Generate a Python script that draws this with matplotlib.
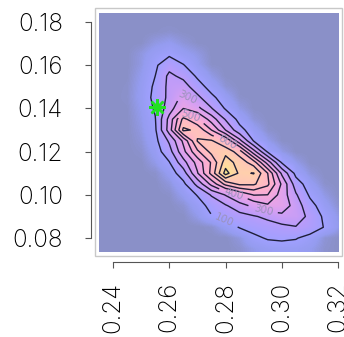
import numpy as np
import matplotlib
matplotlib.use("Agg")
import matplotlib.pyplot as plt
from matplotlib import font_manager
from matplotlib.colors import LinearSegmentedColormap
from matplotlib.patches import Rectangle

# grid of density values (rows from y=0.185 down to y=0.075)
x_grid = [0.235, 0.240, 0.245, 0.250, 0.255, 0.260, 0.265, 0.270, 0.275,
          0.280, 0.285, 0.290, 0.295, 0.300, 0.305, 0.310, 0.315, 0.320]
y_grid = [0.185, 0.180, 0.175, 0.170, 0.165, 0.160, 0.155, 0.150, 0.145, 0.140, 0.135, 0.130,
          0.125, 0.120, 0.115, 0.110, 0.105, 0.100, 0.095, 0.090, 0.085, 0.080, 0.075]
density = [
    [0, 0, 0, 0, 0, 0, 0, 0, 0, 0, 0, 0, 0, 0, 0, 0, 0, 0],
    [0, 0, 0, 0, 0, 0, 0, 0, 0, 0, 0, 0, 0, 0, 0, 0, 0, 0],
    [0, 0, 0, 0, 3, 9, 2, 0, 0, 0, 0, 0, 0, 0, 0, 0, 0, 0],
    [0, 0, 0, 2, 28, 42, 19, 2, 0, 0, 0, 0, 0, 0, 0, 0, 0, 0],
    [0, 0, 0, 25, 58, 85, 50, 28, 0, 0, 0, 0, 0, 0, 0, 0, 0, 0],
    [0, 0, 0, 28, 85, 164, 105, 42, 3, 0, 0, 0, 0, 0, 0, 0, 0, 0],
    [0, 0, 2, 39, 100, 223, 175, 85, 28, 0, 0, 0, 0, 0, 0, 0, 0, 0],
    [0, 0, 5, 46, 115, 227, 246, 144, 63, 14, 0, 0, 0, 0, 0, 0, 0, 0],
    [0, 0, 7, 50, 123, 226, 330, 226, 123, 50, 5, 0, 0, 0, 0, 0, 0, 0],
    [0, 0, 3, 42, 110, 255, 400, 331, 206, 90, 28, 0, 0, 0, 0, 0, 0, 0],
    [0, 0, 1, 35, 95, 332, 630, 516, 354, 192, 68, 16, 0, 0, 0, 0, 0, 0],
    [0, 0, 0, 28, 85, 346, 720, 680, 500, 300, 132, 50, 7, 0, 0, 0, 0, 0],
    [0, 0, 0, 19, 72, 215, 420, 705, 712, 600, 332, 95, 35, 1, 0, 0, 0, 0],
    [0, 0, 0, 9, 54, 160, 370, 580, 730, 770, 650, 342, 85, 28, 0, 0, 0, 0],
    [0, 0, 0, 1, 35, 95, 262, 437, 612, 850, 760, 650, 354, 90, 32, 0, 0, 0],
    [0, 0, 0, 0, 7, 50, 151, 391, 631, 940, 780, 805, 600, 282, 72, 19, 0, 0],
    [0, 0, 0, 0, 0, 22, 77, 229, 429, 629, 720, 715, 620, 385, 150, 50, 7, 0],
    [0, 0, 0, 0, 0, 5, 46, 105, 210, 306, 409, 505, 499, 356, 212, 85, 28, 0],
    [0, 0, 0, 0, 0, 0, 14, 63, 127, 190, 258, 325, 384, 369, 252, 134, 54, 9],
    [0, 0, 0, 0, 0, 0, 1, 35, 95, 133, 165, 190, 225, 270, 261, 171, 85, 28],
    [0, 0, 0, 0, 0, 0, 0, 0, 9, 54, 105, 129, 151, 172, 194, 157, 97, 35],
    [0, 0, 0, 0, 0, 0, 0, 0, 0, 0, 25, 81, 108, 115, 106, 68, 16, 0],
    [0, 0, 0, 0, 0, 0, 0, 0, 0, 0, 10, 35, 55, 60, 58, 40, 10, 0],
]
levels = [100, 200, 300, 400, 500, 600, 700, 800, 900]
star_x, star_y = 0.2556, 0.1406
xticks = [0.24, 0.26, 0.28, 0.30, 0.32]
yticks = [0.08, 0.10, 0.12, 0.14, 0.16, 0.18]

# pick a light sans face if one is installed
light = None
for f in font_manager.fontManager.ttflist:
    if f.name in ("Roboto", "Open Sans", "Lato", "Inter") and f.weight in (300, "light", 200):
        light = f.fname
        break
tick_font = font_manager.FontProperties(fname=light, size=17.5) if light else \
    font_manager.FontProperties(family="DejaVu Sans", size=16)

Z = np.flipud(np.array(density, dtype=float))
xg = np.array(x_grid)
yg = np.array(y_grid[::-1])

cmap = LinearSegmentedColormap.from_list("dens", [
    (0.00, "#8a90c8"), (0.04, "#959cf0"), (0.10, "#a0a0ff"), (0.21, "#bb9cfa"),
    (0.33, "#d8a0f2"), (0.46, "#f0a6e2"), (0.60, "#ffb2cc"), (0.75, "#ffc6b8"),
    (0.90, "#ffdaa0"), (1.00, "#f0f088")])

fig = plt.figure(figsize=(3.44, 3.37), dpi=100)
ax = fig.add_axes([95/344, 1 - 256/337, 247/344, 248/337])

im = ax.imshow(Z, origin="lower", cmap=cmap, vmin=0, vmax=960,
               extent=(0.2325, 0.3225, 0.0725, 0.1875),
               interpolation="bilinear", aspect="auto")
clip = Rectangle((0.2350, 0.0735), 0.0850, 0.1107, transform=ax.transData)
im.set_clip_path(clip)

cs = ax.contour(xg, yg, Z, levels=levels, colors="#1e1e38", linewidths=1.0)
ax.clabel(cs, inline=True, fontsize=7.5, colors="#9a92bc", fmt="%d",
          manual=[(0.2656, 0.1439), (0.2805, 0.1240), (0.2798, 0.0893),
                  (0.2930, 0.0916), (0.2827, 0.0999), (0.2674, 0.1356)])

ax.plot(star_x, star_y, marker=(8, 2, 0), ms=12, mec="#22e022", mew=1.8, ls="none")

ax.set_xlim(0.2336, 0.3214)
ax.set_ylim(0.0717, 0.1865)

# light frame around the plot region, detached R-style axes
for s in ["top", "right"]:
    ax.spines[s].set_visible(False)
ax.add_patch(Rectangle((0, 0), 1, 1, transform=ax.transAxes, fill=False,
                       ec="#c8c8c8", lw=1.0, clip_on=False))
ax.spines["left"].set_position(("outward", 3))
ax.spines["left"].set_bounds(0.08, 0.18)
ax.spines["bottom"].set_position(("outward", 4.5))
ax.spines["bottom"].set_bounds(0.24, 0.32)
for s in ["left", "bottom"]:
    ax.spines[s].set_color("#555555")
    ax.spines[s].set_linewidth(0.8)

ax.set_xticks(xticks)
ax.set_yticks(yticks)
ax.set_xticklabels(["%.2f" % v for v in xticks], rotation=90, fontproperties=tick_font)
ax.set_yticklabels(["%.2f" % v for v in yticks], fontproperties=tick_font)
ax.tick_params(axis="y", length=4, width=0.8, color="#555555", pad=16)
ax.tick_params(axis="x", length=4, width=0.8, color="#555555", pad=10)

fig.savefig("out.png", dpi=100)
